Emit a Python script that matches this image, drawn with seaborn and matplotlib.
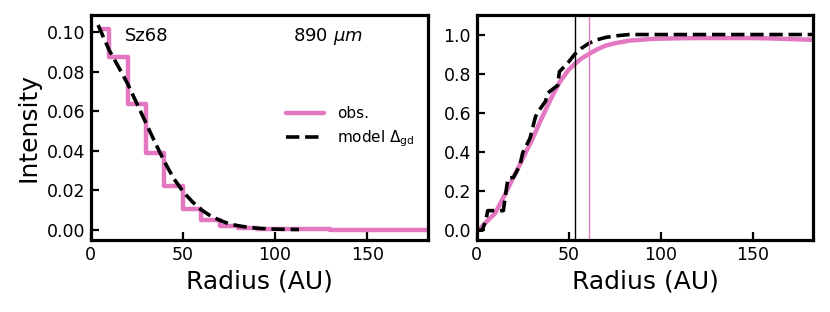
import matplotlib
matplotlib.use('Agg')
import matplotlib.pyplot as plt
import seaborn as sns
import pandas as pd

# ------------ data -----------------------------------
# left panel: radial intensity profile (obs. binned every 10 AU, drawn as steps)
obs_r = [5, 15, 25, 35, 45, 55, 65, 75, 85, 95, 105, 115, 125, 135, 145, 155, 165, 175, 185]
obs_int = [0.1017, 0.0874, 0.0639, 0.0390, 0.0222, 0.0106, 0.0047, 0.0020, 0.0010, 0.0006,
           0.0004, 0.0003, 0.0002, 0.0001, 0.0001, 0.0, 0.0, 0.0, 0.0]

model_r = [4, 10, 15, 20, 25, 30, 35, 40, 45, 50, 55, 60, 65, 70, 75, 80, 85, 90, 95, 100, 105, 113]
model_int = [0.1037, 0.091, 0.0826, 0.074, 0.064, 0.054, 0.044, 0.0345, 0.026, 0.0194, 0.0143,
             0.0101, 0.007, 0.0048, 0.003, 0.002, 0.0013, 0.0008, 0.0005, 0.0003, 0.0002, 0.0001]

# right panel: cumulative (normalised) profiles
cum_obs_r = [0, 2, 5, 10, 15, 20, 25, 30, 35, 40, 45, 50, 53.4, 57, 61, 65, 70, 75, 83, 96,
             110, 120, 135, 150, 160, 170, 183]
cum_obs = [0.0, 0.01, 0.04, 0.086, 0.175, 0.27, 0.365, 0.46, 0.565, 0.665, 0.755, 0.82, 0.85,
           0.878, 0.90, 0.922, 0.943, 0.955, 0.969, 0.978, 0.981, 0.982, 0.982, 0.982, 0.98,
           0.977, 0.973]

cum_model_r = [0, 3, 5, 6, 14.5, 16, 17, 20, 23.5, 25, 29, 32, 33, 37.5, 38.5, 44, 45, 50,
               53.4, 57, 61, 65, 70, 75, 83, 100, 140, 183]
cum_model = [0.0, 0.0, 0.05, 0.10, 0.10, 0.20, 0.265, 0.27, 0.33, 0.395, 0.47, 0.58, 0.60,
             0.66, 0.70, 0.74, 0.81, 0.86, 0.90, 0.93, 0.955, 0.972, 0.985, 0.993, 1.0, 1.0,
             1.0, 1.0]

r_cut_model = 53.4
r_cut_obs = 61.0

PINK = '#e377c2'

sns.set_style('ticks')
plt.rcParams['font.family'] = ['DejaVu Sans']
plt.rcParams['mathtext.fontset'] = 'dejavusans'
for key in ['text.color', 'axes.labelcolor', 'xtick.color', 'ytick.color', 'axes.edgecolor']:
    plt.rcParams[key] = 'black'

fig = plt.figure(figsize=(8.3, 3.12), dpi=100)
ax1 = fig.add_axes([0.1093, 0.2308, 0.4064, 0.7212])
ax2 = fig.add_axes([0.5743, 0.2308, 0.4055, 0.7212])

df_obs = pd.DataFrame({'r': obs_r, 'I': obs_int})
df_mod = pd.DataFrame({'r': model_r, 'I': model_int})
sns.lineplot(data=df_obs, x='r', y='I', ax=ax1, color=PINK, lw=3.2,
             drawstyle='steps-mid', label='obs.')
sns.lineplot(data=df_mod, x='r', y='I', ax=ax1, color='k', lw=2.6,
             linestyle='--', label=r'model $\Delta_{\rm gd}$')

df_cobs = pd.DataFrame({'r': cum_obs_r, 'C': cum_obs})
df_cmod = pd.DataFrame({'r': cum_model_r, 'C': cum_model})
sns.lineplot(data=df_cobs, x='r', y='C', ax=ax2, color=PINK, lw=3.2)
sns.lineplot(data=df_cmod, x='r', y='C', ax=ax2, color='k', lw=2.6, linestyle='--')
ax2.axvline(r_cut_model, color='k', lw=1.0)
ax2.axvline(r_cut_obs, color=PINK, lw=1.0)

ax1.set_xlim(0, 183)
ax1.set_ylim(-0.0052, 0.1088)
ax2.set_xlim(0, 183)
ax2.set_ylim(-0.05, 1.1)

ax1.text(0.10, 0.905, 'Sz68', transform=ax1.transAxes, fontsize=13, va='center')
ax1.text(0.60, 0.905, r'890 $\mu m$', transform=ax1.transAxes, fontsize=13, va='center')
ax1.legend(loc='center right', frameon=False, fontsize=11, handlelength=2.5)

ax1.set_ylabel('Intensity', fontsize=18)
for ax in (ax1, ax2):
    ax.set_xlabel('Radius (AU)', fontsize=18)
    ax.tick_params(direction='in', length=6, width=1.6, labelsize=12.5, pad=4)
    for sp in ax.spines.values():
        sp.set_linewidth(2.3)
        sp.set_visible(True)
ax2.set_ylabel('')

fig.savefig('out.png', dpi=100)
